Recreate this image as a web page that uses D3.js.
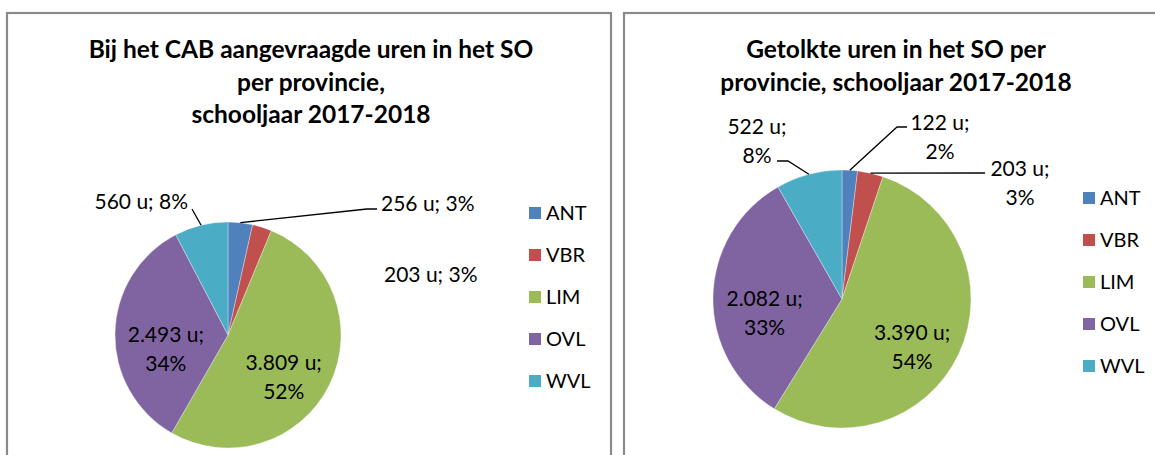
<!DOCTYPE html>
<html>
<head>
<meta charset="utf-8">
<script src="https://cdn.jsdelivr.net/npm/d3@7"></script>
<style>
  html, body { margin: 0; padding: 0; background: #fff; }
  svg { display: block; }
  text { font-family: Lato, "Carlito", Calibri, sans-serif; fill: #000; }
</style>
</head>
<body>
<svg id="chart" width="1155" height="455"></svg>
<script>
// ---- data ----
const categories = ["ANT", "VBR", "LIM", "OVL", "WVL"];
const requestedHours = [256, 203, 3809, 2493, 560];
const requestedPct = ["3%", "3%", "52%", "34%", "8%"];
const interpretedHours = [122, 203, 3390, 2082, 522];
const interpretedPct = ["2%", "3%", "54%", "33%", "8%"];
const titleLeft = ["Bij het CAB aangevraagde uren in het SO", "per provincie,", "schooljaar 2017-2018"];
const titleRight = ["Getolkte uren in het SO per", "provincie, schooljaar 2017-2018"];
const colors = ["#4F81BD", "#C0504D", "#9BBB59", "#8064A2", "#4BACC6"];

const fmt = v => d3.format(",")(v).replace(/,/g, ".");

const svg = d3.select("#chart");
const color = d3.scaleOrdinal().domain(categories).range(colors);

function drawPanel(cfg) {
  const g = svg.append("g");
  g.append("rect")
    .attr("x", cfg.box[0]).attr("y", cfg.box[1])
    .attr("width", cfg.box[2]).attr("height", cfg.box[3])
    .attr("fill", "#fff").attr("stroke", "#8a8a8a").attr("stroke-width", 2.2);

  // title
  g.append("g").selectAll("text").data(cfg.title).join("text")
    .attr("x", cfg.titleX)
    .attr("y", (d, i) => cfg.titleY + i * cfg.titleStep)
    .attr("text-anchor", "middle")
    .attr("font-weight", "bold")
    .attr("font-size", cfg.titleSize)
    .text(d => d);

  const data = categories.map((c, i) => ({ cat: c, value: cfg.values[i], pct: cfg.pct[i] }));
  const pie = d3.pie().sort(null).value(d => d.value);
  const arcs = pie(data);
  const arc = d3.arc().innerRadius(0).outerRadius(cfg.r);
  const pg = g.append("g").attr("transform", `translate(${cfg.cx},${cfg.cy})`);
  pg.selectAll("path").data(arcs).join("path")
    .attr("d", arc)
    .attr("fill", d => color(d.data.cat))
    .attr("stroke", "rgba(255,255,255,0.55)")
    .attr("stroke-width", 0.6);

  // labels
  const labelArc = d3.arc().innerRadius(cfg.r * cfg.labelK).outerRadius(cfg.r * cfg.labelK);
  arcs.forEach((a, i) => {
    const lay = cfg.outside[a.data.cat];
    const lines = cfg.lines[a.data.cat] || [fmt(a.data.value) + " u;", a.data.pct];
    let cx, cy;
    if (lay) { cx = lay.x; cy = lay.y; }
    else {
      const c = labelArc.centroid(a);
      cx = cfg.cx + c[0]; cy = cfg.cy + c[1] + 15;
    }
    const t = g.append("text")
      .attr("font-size", cfg.labelSize)
      .attr("text-anchor", lay && lay.anchor ? lay.anchor : "middle");
    const n = lines.length;
    lines.forEach((ln, k) => {
      t.append("tspan")
        .attr("x", cx)
        .attr("y", cy + (k - (n - 1) / 2) * cfg.lineStep + cfg.labelSize * 0.35)
        .text(ln);
    });
    if (lay && lay.leader) {
      const mid = (a.startAngle + a.endAngle) / 2;
      const sx = cfg.cx + Math.sin(mid) * cfg.r;
      const sy = cfg.cy - Math.cos(mid) * cfg.r;
      const pts = [[sx, sy]].concat(lay.leader);
      g.append("path")
        .attr("d", d3.line()(pts))
        .attr("fill", "none")
        .attr("stroke", "#000")
        .attr("stroke-width", 1.3);
    }
  });

  // legend
  const lg = g.append("g");
  categories.forEach((c, i) => {
    const y = cfg.legY + i * cfg.legStep;
    lg.append("rect").attr("x", cfg.legX).attr("y", y - 6)
      .attr("width", 12).attr("height", 12).attr("fill", color(c));
    lg.append("text").attr("x", cfg.legX + 17).attr("y", y + cfg.legSize * 0.36)
      .attr("font-size", cfg.legSize).text(c);
  });
}

drawPanel({
  box: [7, 13, 604, 520],
  title: titleLeft, titleX: 311, titleY: 58, titleStep: 32.5, titleSize: 24.5,
  values: requestedHours, pct: requestedPct,
  cx: 228, cy: 335, r: 113, labelK: 0.55,
  labelSize: 21, lineStep: 29, legSize: 20,
  lines: {
    ANT: [fmt(requestedHours[0]) + " u; " + requestedPct[0]],
    VBR: [fmt(requestedHours[1]) + " u; " + requestedPct[1]],
    WVL: [fmt(requestedHours[4]) + " u; " + requestedPct[4]]
  },
  outside: {
    ANT: { x: 381, y: 204, anchor: "start", leader: [[367, 209], [377, 209]] },
    VBR: { x: 384, y: 275, anchor: "start" },
    WVL: { x: 188, y: 202, anchor: "end", leader: [[192, 209]] }
  },
  legX: 529, legY: 213, legStep: 42
});

drawPanel({
  box: [624, 13, 620, 520],
  title: titleRight, titleX: 896, titleY: 58, titleStep: 32.5, titleSize: 24.5,
  values: interpretedHours, pct: interpretedPct,
  cx: 842, cy: 299, r: 129, labelK: 0.6,
  labelSize: 21, lineStep: 29, legSize: 20,
  lines: {},
  outside: {
    ANT: { x: 940, y: 137, leader: [[897, 127], [907, 127]] },
    VBR: { x: 1020, y: 183, leader: [[985, 173]] },
    WVL: { x: 757, y: 141, leader: [[788, 161], [777, 161]] }
  },
  legX: 1083, legY: 198, legStep: 42
});
</script>
</body>
</html>
